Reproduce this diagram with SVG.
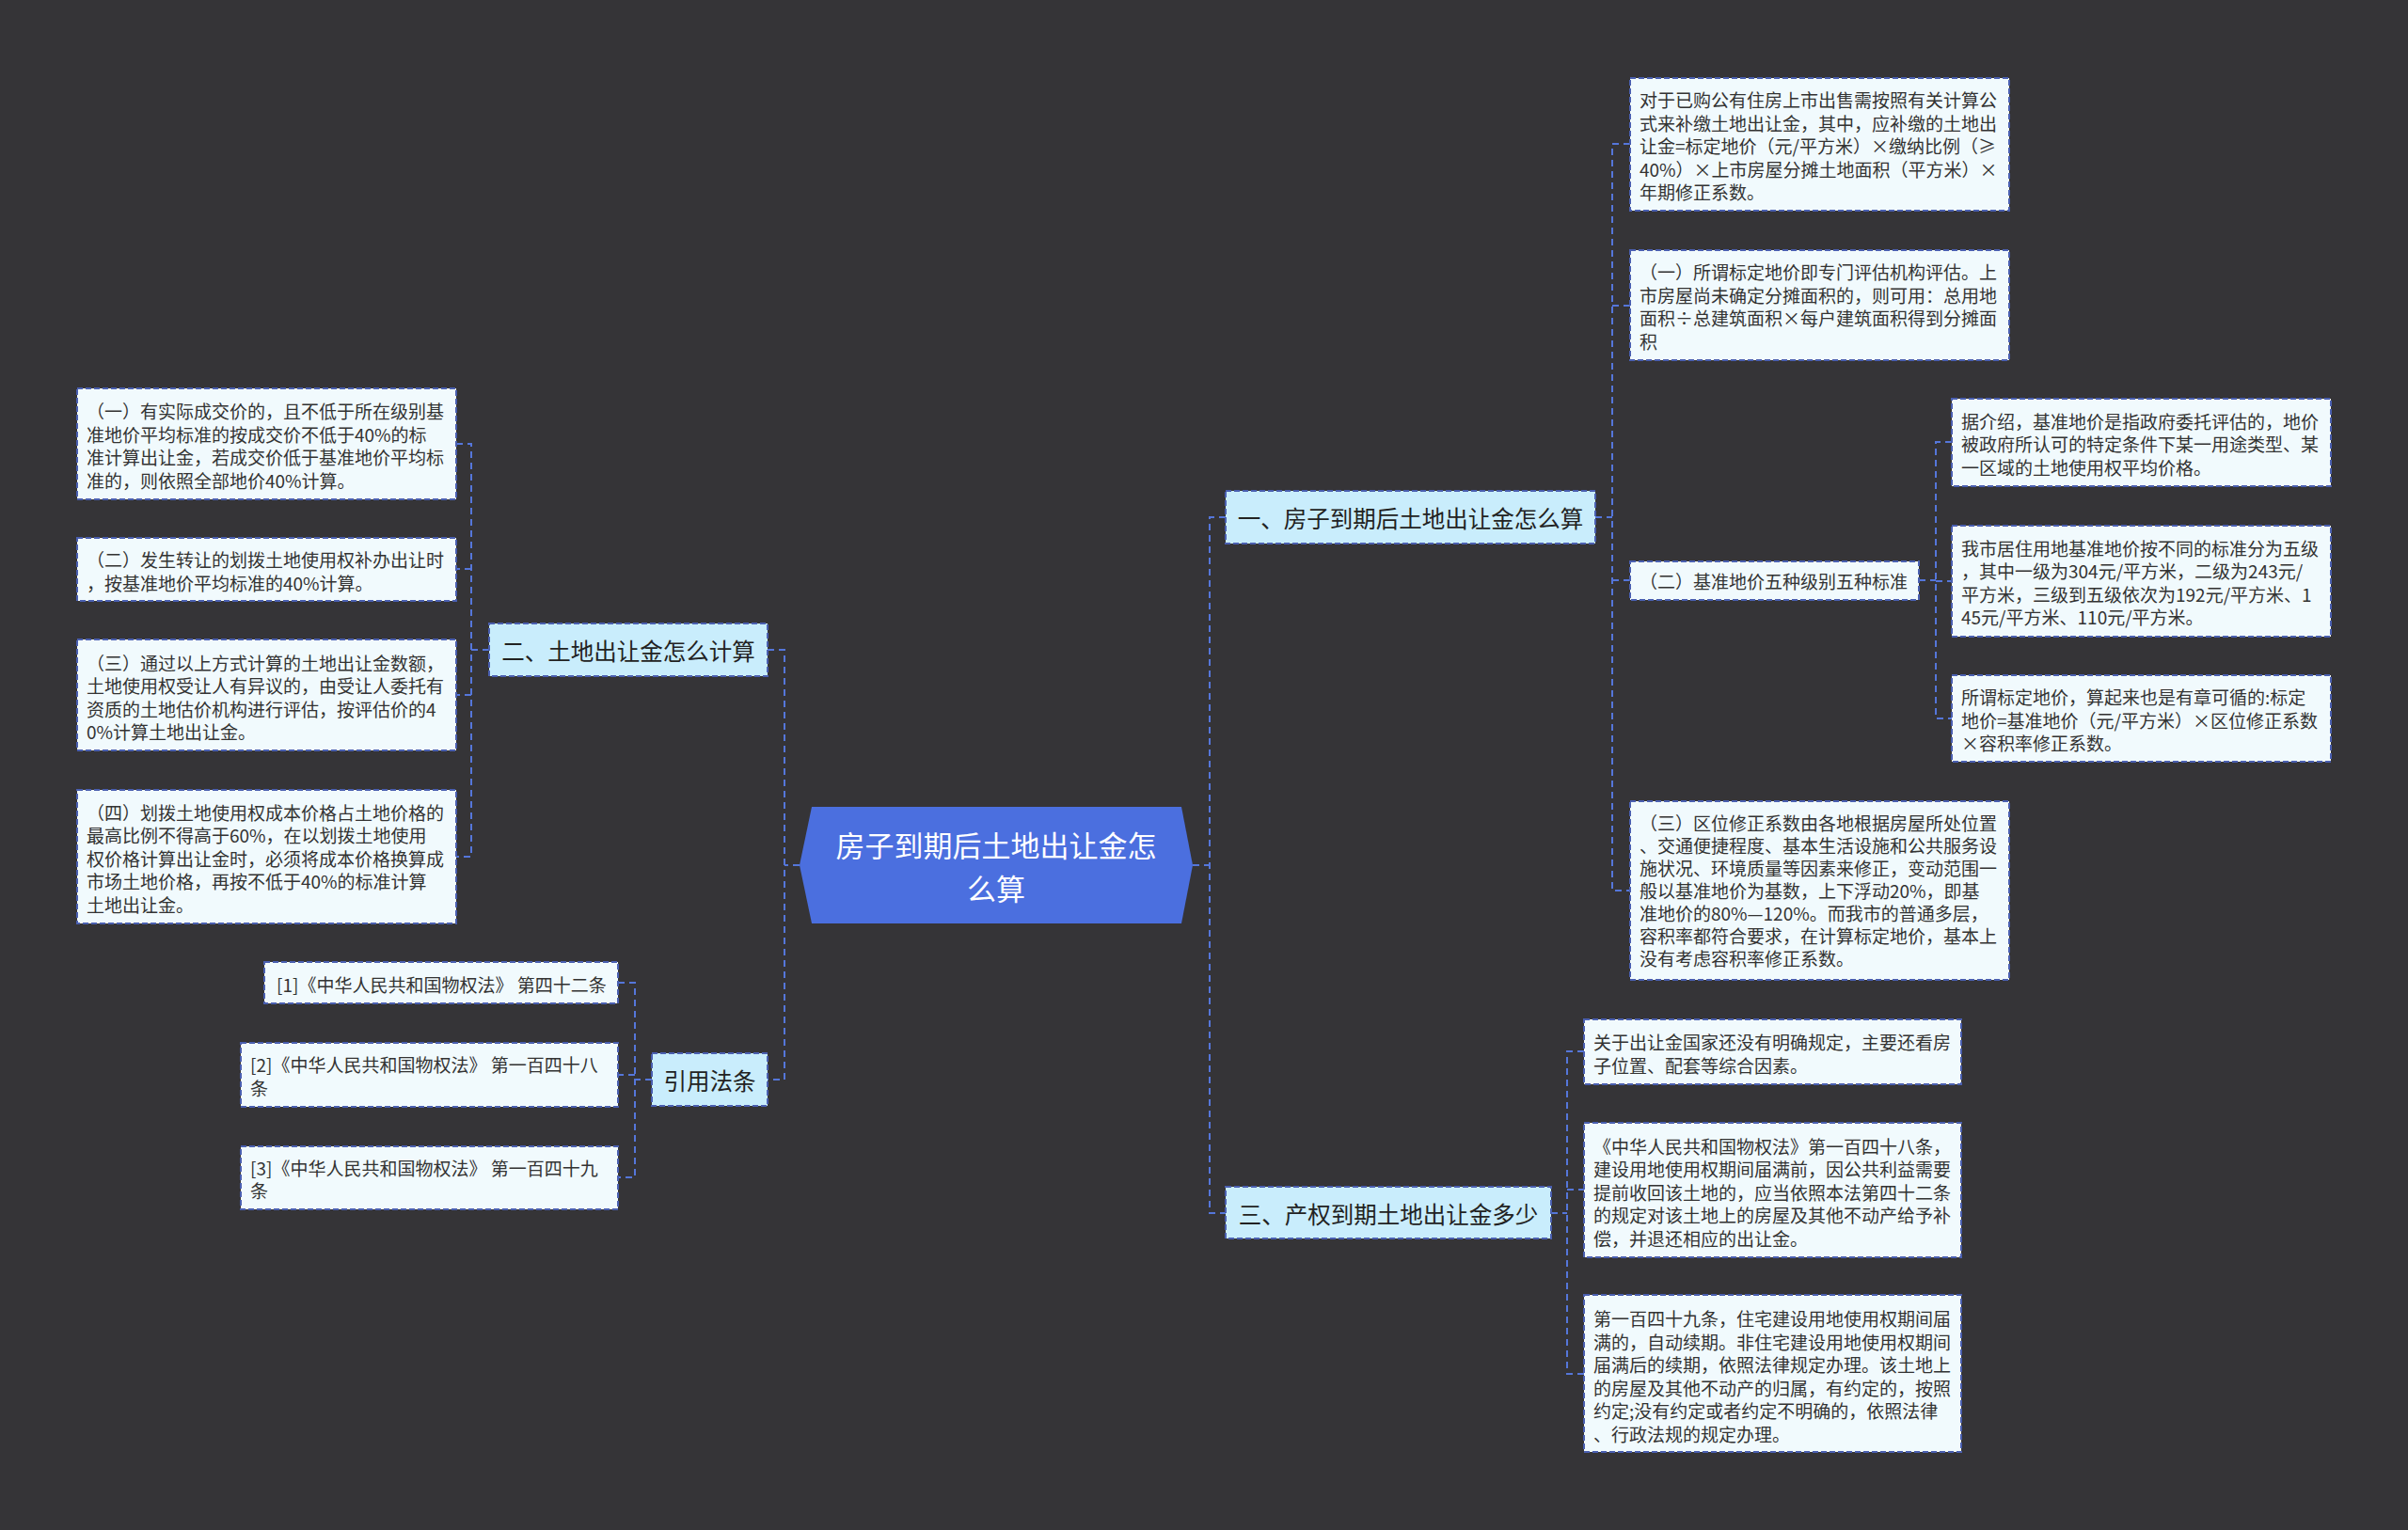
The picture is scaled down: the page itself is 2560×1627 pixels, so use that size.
<svg xmlns="http://www.w3.org/2000/svg" width="2560" height="1627" viewBox="0 0 2560 1627">
<style>
.bg{fill:#353437}
.leaf rect{fill:#f1fafd;stroke:#4a5fb0;stroke-width:2;stroke-dasharray:6 3}
.branch rect{fill:#c9edfc;stroke:#4a5fb0;stroke-width:2;stroke-dasharray:6 3}
text{font-family:"Noto Sans CJK SC","Microsoft YaHei","Noto Sans",sans-serif;dominant-baseline:central}
.t{font-size:19px;fill:#333333}
.bt{font-size:24.5px;fill:#222222;text-anchor:middle}
.ct{font-size:31px;fill:#ffffff;text-anchor:middle}
.conn path{fill:none;stroke:#5576da;stroke-width:2;stroke-dasharray:7 5}
</style>
<rect class="bg" x="0" y="0" width="2560" height="1627"/>

<g class="conn" id="connectors">
<path d="M850,920 H834"/>
<path d="M816,691 H834 V1148 H816"/>
<path d="M1268,920 H1286"/>
<path d="M1303,550 H1286 V1290 H1303"/>
<path d="M1696,550 H1714"/>
<path d="M1733,153 H1714 V947 H1733"/>
<path d="M1714,325 H1733"/>
<path d="M1714,617 H1733"/>
<path d="M2040,617 H2058"/>
<path d="M2075,470 H2058 V764 H2075"/>
<path d="M2058,618 H2075"/>
<path d="M520,691 H501"/>
<path d="M485,472 H501 V911 H485"/>
<path d="M501,605 H485"/>
<path d="M501,739 H485"/>
<path d="M693,1148 H675"/>
<path d="M657,1045 H675 V1252 H657"/>
<path d="M675,1143 H657"/>
<path d="M1649,1290 H1666"/>
<path d="M1684,1118 H1666 V1461 H1684"/>
<path d="M1666,1265 H1684"/>
</g>

<g id="center">
<polygon points="863,858 1256,858 1268,920 1256,982 863,982 850,920" fill="#4b6fdf"/>
<text class="ct" x="1059" y="897">房子到期后土地出让金怎</text>
<text class="ct" x="1059" y="943">么算</text>
</g>

<g id="branch1" class="branch">
<rect x="1303" y="522" width="393" height="56"/>
<text class="bt" x="1499.5" y="550">一、房子到期后土地出让金怎么算</text>
</g>
<g id="branch2" class="branch">
<rect x="520" y="663" width="296" height="56"/>
<text class="bt" x="668" y="691">二、土地出让金怎么计算</text>
</g>
<g id="branch3" class="branch">
<rect x="1303" y="1262" width="346" height="55"/>
<text class="bt" x="1476" y="1290">三、产权到期土地出让金多少</text>
</g>
<g id="branch4" class="branch">
<rect x="693" y="1120" width="123" height="56"/>
<text class="bt" x="754.5" y="1148">引用法条</text>
</g>

<g id="leafA" class="leaf">
<rect x="1733" y="83" width="403" height="141"/>
<text class="t"><tspan x="1743" y="105">对于已购公有住房上市出售需按照有关计算公</tspan><tspan x="1743" y="129.5">式来补缴土地出让金，其中，应补缴的土地出</tspan><tspan x="1743" y="154">让金=标定地价（元/平方米）×缴纳比例（≥</tspan><tspan x="1743" y="178.5">40%）×上市房屋分摊土地面积（平方米）×</tspan><tspan x="1743" y="203">年期修正系数。</tspan></text>
</g>
<g id="leafB" class="leaf">
<rect x="1733" y="266" width="403" height="117"/>
<text class="t"><tspan x="1743" y="288">（一）所谓标定地价即专门评估机构评估。上</tspan><tspan x="1743" y="312.5">市房屋尚未确定分摊面积的，则可用：总用地</tspan><tspan x="1743" y="337">面积÷总建筑面积×每户建筑面积得到分摊面</tspan><tspan x="1743" y="361.5">积</tspan></text>
</g>
<g id="leafB2" class="leaf">
<rect x="1733" y="597" width="307" height="41"/>
<text class="t" x="1743" y="617.5">（二）基准地价五种级别五种标准</text>
</g>
<g id="leafC1" class="leaf">
<rect x="2075" y="424" width="403" height="93"/>
<text class="t"><tspan x="2085" y="446.5">据介绍，基准地价是指政府委托评估的，地价</tspan><tspan x="2085" y="471">被政府所认可的特定条件下某一用途类型、某</tspan><tspan x="2085" y="495.5">一区域的土地使用权平均价格。</tspan></text>
</g>
<g id="leafC2" class="leaf">
<rect x="2075" y="559" width="403" height="118"/>
<text class="t"><tspan x="2085" y="581.5">我市居住用地基准地价按不同的标准分为五级</tspan><tspan x="2085" y="606">，其中一级为304元/平方米，二级为243元/</tspan><tspan x="2085" y="630.5">平方米，三级到五级依次为192元/平方米、1</tspan><tspan x="2085" y="655">45元/平方米、110元/平方米。</tspan></text>
</g>
<g id="leafC3" class="leaf">
<rect x="2075" y="718" width="403" height="92"/>
<text class="t"><tspan x="2085" y="740">所谓标定地价，算起来也是有章可循的:标定</tspan><tspan x="2085" y="764.5">地价=基准地价（元/平方米）×区位修正系数</tspan><tspan x="2085" y="789">×容积率修正系数。</tspan></text>
</g>
<g id="leafD" class="leaf">
<rect x="1733" y="852" width="403" height="190"/>
<text class="t"><tspan x="1743" y="873.5">（三）区位修正系数由各地根据房屋所处位置</tspan><tspan x="1743" y="897.5">、交通便捷程度、基本生活设施和公共服务设</tspan><tspan x="1743" y="921.5">施状况、环境质量等因素来修正，变动范围一</tspan><tspan x="1743" y="945.5">般以基准地价为基数，上下浮动20%，即基</tspan><tspan x="1743" y="969.5">准地价的80%—120%。而我市的普通多层，</tspan><tspan x="1743" y="993.5">容积率都符合要求，在计算标定地价，基本上</tspan><tspan x="1743" y="1017.5">没有考虑容积率修正系数。</tspan></text>
</g>
<g id="leafE1" class="leaf">
<rect x="1684" y="1084" width="401" height="69"/>
<text class="t"><tspan x="1694" y="1107">关于出让金国家还没有明确规定，主要还看房</tspan><tspan x="1694" y="1131.5">子位置、配套等综合因素。</tspan></text>
</g>
<g id="leafE2" class="leaf">
<rect x="1684" y="1194" width="401" height="143"/>
<text class="t"><tspan x="1694" y="1217.5">《中华人民共和国物权法》第一百四十八条，</tspan><tspan x="1694" y="1242">建设用地使用权期间届满前，因公共利益需要</tspan><tspan x="1694" y="1266.5">提前收回该土地的，应当依照本法第四十二条</tspan><tspan x="1694" y="1291">的规定对该土地上的房屋及其他不动产给予补</tspan><tspan x="1694" y="1315.5">偿，并退还相应的出让金。</tspan></text>
</g>
<g id="leafE3" class="leaf">
<rect x="1684" y="1377" width="401" height="167"/>
<text class="t"><tspan x="1694" y="1401">第一百四十九条，住宅建设用地使用权期间届</tspan><tspan x="1694" y="1425.5">满的，自动续期。非住宅建设用地使用权期间</tspan><tspan x="1694" y="1450">届满后的续期，依照法律规定办理。该土地上</tspan><tspan x="1694" y="1474.5">的房屋及其他不动产的归属，有约定的，按照</tspan><tspan x="1694" y="1499">约定;没有约定或者约定不明确的，依照法律</tspan><tspan x="1694" y="1523.5">、行政法规的规定办理。</tspan></text>
</g>
<g id="leafF1" class="leaf">
<rect x="82" y="413" width="403" height="118"/>
<text class="t"><tspan x="92" y="436">（一）有实际成交价的，且不低于所在级别基</tspan><tspan x="92" y="460.5">准地价平均标准的按成交价不低于40%的标</tspan><tspan x="92" y="485">准计算出让金，若成交价低于基准地价平均标</tspan><tspan x="92" y="509.5">准的，则依照全部地价40%计算。</tspan></text>
</g>
<g id="leafF2" class="leaf">
<rect x="82" y="572" width="403" height="67"/>
<text class="t"><tspan x="92" y="594">（二）发生转让的划拨土地使用权补办出让时</tspan><tspan x="92" y="618.5">，按基准地价平均标准的40%计算。</tspan></text>
</g>
<g id="leafF3" class="leaf">
<rect x="82" y="680" width="403" height="118"/>
<text class="t"><tspan x="92" y="703.5">（三）通过以上方式计算的土地出让金数额，</tspan><tspan x="92" y="728">土地使用权受让人有异议的，由受让人委托有</tspan><tspan x="92" y="752.5">资质的土地估价机构进行评估，按评估价的4</tspan><tspan x="92" y="777">0%计算土地出让金。</tspan></text>
</g>
<g id="leafF4" class="leaf">
<rect x="82" y="840" width="403" height="142"/>
<text class="t"><tspan x="92" y="862.5">（四）划拨土地使用权成本价格占土地价格的</tspan><tspan x="92" y="887">最高比例不得高于60%，在以划拨土地使用</tspan><tspan x="92" y="911.5">权价格计算出让金时，必须将成本价格换算成</tspan><tspan x="92" y="936">市场土地价格，再按不低于40%的标准计算</tspan><tspan x="92" y="960.5">土地出让金。</tspan></text>
</g>
<g id="leafG1" class="leaf">
<rect x="281" y="1023" width="376" height="44"/>
<text class="t" x="294" y="1046">[1]《中华人民共和国物权法》 第四十二条</text>
</g>
<g id="leafG2" class="leaf">
<rect x="256" y="1109" width="401" height="68"/>
<text class="t"><tspan x="266" y="1131">[2]《中华人民共和国物权法》 第一百四十八</tspan><tspan x="266" y="1155.5">条</tspan></text>
</g>
<g id="leafG3" class="leaf">
<rect x="256" y="1219" width="401" height="67"/>
<text class="t"><tspan x="266" y="1240.5">[3]《中华人民共和国物权法》 第一百四十九</tspan><tspan x="266" y="1265">条</tspan></text>
</g>
</svg>
